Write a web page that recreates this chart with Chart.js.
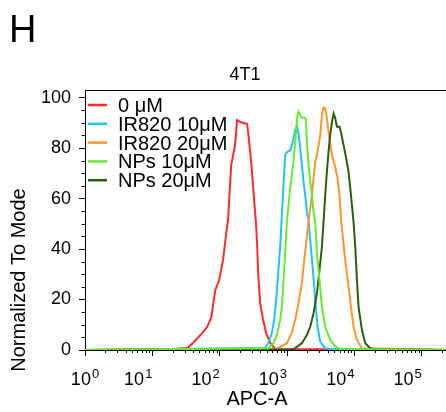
<!DOCTYPE html>
<html>
<head>
<meta charset="utf-8">
<script src="https://cdn.jsdelivr.net/npm/chart.js@4.4.1/dist/chart.umd.min.js"></script>
<style>
  html, body { margin: 0; padding: 0; background: #fff; overflow: hidden; width: 446px; height: 412px; }
  #wrap { position: relative; width: 450px; height: 412px; }
  .lbl { position: absolute; font-family: 'Liberation Sans', Arial, sans-serif; color: #000; line-height: 1; white-space: nowrap; }
</style>
</head>
<body>
<div id="wrap">
  <canvas id="chart" width="450" height="412"></canvas>
  <div class="lbl" style="left:9px; top:10px; font-size:38px;">H</div>
  <div class="lbl" style="left:245px; top:65px; font-size:18px; transform:translateX(-50%);">4T1</div>
</div>
<script>
// histogram values (APC-A, % of mode)
const seriesNames = ['0 μM', 'IR820 10μM', 'IR820 20μM', 'NPs 10μM', 'NPs 20μM'];
const seriesColors = ['#ff2b2b', '#1ec3f2', '#ff952c', '#66ea30', '#2e5c10'];
const seriesOrder = [4, 3, 2, 0, 1];

const apc0uM = [1, 22, 33, 40, 55, 65, 75, 86, 98, 112, 125, 133, 148, 158, 169, 181, 201, 255, 264, 293, 314, 347, 360, 372, 398, 441, 489, 561, 666, 262144];
const mode0uM = [0, 0.5, 0.8, 2.8, 6.7, 9.1, 13, 23.8, 27.7, 35.6, 46.3, 51.5, 73.3, 77.2, 81.2, 91.1, 90.3, 89.5, 86.3, 74.5, 64.2, 49.5, 40.8, 30.5, 18.6, 11.9, 6.7, 2.8, 0.4, 0];

const apcIR10 = [1, 473, 529, 594, 643, 689, 745, 789, 884, 937, 993, 1112, 1219, 1319, 1399, 1476, 1566, 1660, 1755, 1858, 1968, 2080, 2204, 2417, 2618, 2833, 3105, 3683, 4368, 262144];
const modeIR10 = [0, 0.8, 2.8, 6.7, 11.9, 19.8, 31.7, 40.8, 65.3, 77.2, 78.3, 79.2, 82.5, 87.1, 88.8, 85.8, 80, 73.3, 66.7, 61.4, 54.8, 51.5, 43.6, 31.7, 19.8, 9.2, 3.3, 0.7, 0.4, 0];

const apcIR20 = [1, 705, 993, 1178, 1319, 1476, 1656, 1796, 1968, 2080, 2333, 2618, 2833, 3105, 3289, 3475, 3683, 3899, 4121, 4368, 4786, 5188, 5610, 6012, 6365, 7297, 8171, 8871, 9701, 10890, 12920, 262144];
const modeIR20 = [0, 0.5, 2.7, 7.1, 11.9, 18.5, 26.4, 35.6, 44.9, 50.7, 61.4, 74.6, 78.5, 85.1, 93.1, 96, 95.7, 91.8, 86.5, 81.2, 75.9, 72.6, 68, 61.4, 50.8, 35.6, 25.1, 17.1, 9.2, 4, 0.7, 0];

const apcNP10 = [1, 529, 628, 705, 789, 837, 884, 937, 993, 1112, 1245, 1319, 1429, 1476, 1566, 1660, 1796, 1903, 1968, 2080, 2204, 2333, 2466, 2618, 2768, 3027, 3289, 3683, 4368, 5188, 6151, 262144];
const modeNP10 = [0, 0.7, 2.7, 5.9, 11.9, 17.1, 27.7, 38.4, 50.7, 64, 74.6, 82.5, 93.1, 94.4, 93.1, 92, 92, 91.5, 82.5, 73.3, 66.7, 61.4, 54.8, 50.7, 38.4, 27.7, 17.1, 9.2, 4, 1.3, 0.4, 0];

const apcNP20 = [1, 1245, 1660, 1968, 2204, 2466, 2773, 3027, 3289, 3475, 3683, 3899, 4121, 4368, 4634, 4898, 5188, 5495, 6012, 6296, 6887, 7551, 8171, 8670, 9183, 9701, 10280, 10890, 11510, 12920, 14460, 17170, 20380, 262144];
const modeNP20 = [0, 0.3, 2.7, 5.9, 9.2, 14.5, 22.5, 31.7, 40.9, 50.7, 61.4, 70.6, 78.5, 85.1, 90.4, 93.7, 91.8, 88.4, 88.4, 86.5, 81.2, 75.9, 70.6, 64, 57.4, 50.7, 40.9, 27.7, 17.1, 7.9, 2.7, 0.7, 0.3, 0];

// axes
const xMin = 1, xMax = 262144;
const yMin = 0, yMax = 103;
const xDecades = [1, 10, 100, 1000, 10000, 100000];
const xExponents = ['0', '1', '2', '3', '4', '5'];
const xMinorSteps = [2, 3, 4, 5, 6, 7, 8, 9];
const yTicks = [0, 20, 40, 60, 80, 100];
const yMinorStep = 5;
const xTitle = 'APC-A';
const yTitle = 'Normalized To Mode';

const FONT = "'Liberation Sans', Arial, sans-serif";

const allX = [apc0uM, apcIR10, apcIR20, apcNP10, apcNP20];
const allY = [mode0uM, modeIR10, modeIR20, modeNP10, modeNP20];

const datasets = seriesNames.map((name, i) => ({
  label: name,
  data: allX[i].map((x, j) => ({ x: x, y: allY[i][j] })),
  borderColor: seriesColors[i],
  backgroundColor: seriesColors[i],
  borderWidth: 2,
  pointRadius: 0,
  tension: 0,
  fill: false,
  order: seriesOrder[i]
}));

// frame, minor ticks, superscript labels, axis titles and legend
const flowDecor = {
  id: 'flowDecor',
  afterDraw(chart) {
    const ctx = chart.ctx;
    const area = chart.chartArea;
    const xs = chart.scales.x;
    const ys = chart.scales.y;
    ctx.save();
    ctx.strokeStyle = '#000';
    ctx.lineWidth = 1;

    ctx.beginPath();
    ctx.moveTo(area.left, area.top + 0.5);
    ctx.lineTo(area.right, area.top + 0.5);
    ctx.stroke();

    // minor ticks
    ctx.beginPath();
    xDecades.forEach(d => {
      xMinorSteps.forEach(m => {
        const v = d * m;
        if (v > xMax) return;
        const px = Math.round(xs.getPixelForValue(v)) + 0.5;
        ctx.moveTo(px, area.bottom);
        ctx.lineTo(px, area.bottom + 3);
      });
    });
    for (let v = yMin + yMinorStep; v <= 100; v += yMinorStep) {
      if (yTicks.includes(v)) continue;
      const py = Math.round(ys.getPixelForValue(v)) + 0.5;
      ctx.moveTo(area.left - 3.5, py);
      ctx.lineTo(area.left, py);
    }
    ctx.stroke();

    // x tick labels 10^n
    ctx.fillStyle = '#000';
    ctx.textBaseline = 'alphabetic';
    ctx.textAlign = 'left';
    xDecades.forEach((d, i) => {
      const px = xs.getPixelForValue(d);
      ctx.font = '18px ' + FONT;
      const wBase = ctx.measureText('10').width;
      ctx.font = '13px ' + FONT;
      const wExp = ctx.measureText(xExponents[i]).width;
      const total = wBase + wExp + 1;
      const left = i === 0 ? px - total / 2 : px - total;
      ctx.font = '18px ' + FONT;
      ctx.fillText('10', left, area.bottom + 35);
      ctx.font = '13px ' + FONT;
      ctx.fillText(xExponents[i], left + wBase + 1, area.bottom + 28);
    });

    // axis titles
    ctx.font = '20px ' + FONT;
    ctx.textAlign = 'center';
    ctx.fillText(xTitle, 257, area.bottom + 55);
    ctx.save();
    ctx.translate(25, 280);
    ctx.rotate(-Math.PI / 2);
    ctx.fillText(yTitle, 0, 0);
    ctx.restore();

    // legend
    ctx.textAlign = 'left';
    ctx.font = '20px ' + FONT;
    chart.data.datasets.forEach((ds, i) => {
      const y = area.top + 15 + i * 18.8;
      ctx.strokeStyle = ds.borderColor;
      ctx.lineWidth = 2.5;
      ctx.beginPath();
      ctx.moveTo(area.left + 3, y);
      ctx.lineTo(area.left + 22, y);
      ctx.stroke();
      ctx.fillText(ds.label, area.left + 33, y + 7);
    });
    ctx.restore();
  }
};

new Chart(document.getElementById('chart'), {
  type: 'line',
  data: { datasets: datasets },
  options: {
    responsive: false,
    animation: false,
    devicePixelRatio: 1,
    layout: { padding: { top: 90, left: 0, right: 0, bottom: 0 } },
    plugins: {
      legend: { display: false },
      title: { display: false },
      tooltip: { enabled: false }
    },
    scales: {
      x: {
        type: 'logarithmic',
        min: xMin,
        max: xMax,
        afterBuildTicks: s => { s.ticks = xDecades.map(v => ({ value: v })); },
        afterFit: s => { s.height = 62; },
        ticks: { display: false },
        grid: { drawOnChartArea: false, tickLength: 6, color: '#000', tickColor: '#000' },
        border: { color: '#000', width: 1 }
      },
      y: {
        type: 'linear',
        min: yMin,
        max: yMax,
        afterBuildTicks: s => { s.ticks = yTicks.map(v => ({ value: v })); },
        afterFit: s => { s.width = 85; },
        ticks: { color: '#000', font: { size: 18, family: FONT }, padding: 8 },
        grid: { drawOnChartArea: false, tickLength: 6, color: '#000', tickColor: '#000' },
        border: { color: '#000', width: 1 }
      }
    }
  },
  plugins: [flowDecor]
});
</script>
</body>
</html>
